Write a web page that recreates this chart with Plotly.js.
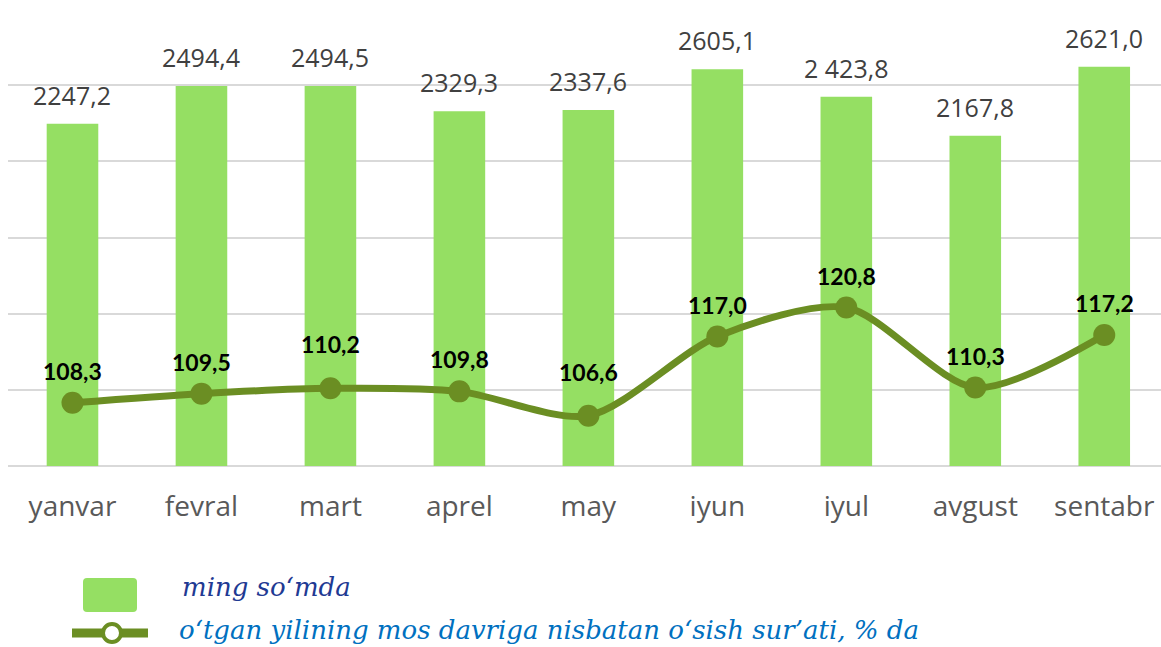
<!DOCTYPE html>
<html>
<head>
<meta charset="utf-8">
<script src="https://cdn.plot.ly/plotly-3.0.1.min.js"></script>
<style>html,body{margin:0;padding:0;background:#fff;}#chart{width:1161px;height:647px;}</style>
</head>
<body>
<div id="chart"></div>
<script>
var months = ["yanvar","fevral","mart","aprel","may","iyun","iyul","avgust","sentabr"];
var amounts = [2247.2, 2494.4, 2494.5, 2329.3, 2337.6, 2605.1, 2423.8, 2167.8, 2621.0];
var amountLabels = ["2247,2","2494,4","2494,5","2329,3","2337,6","2605,1","2 423,8","2167,8","2621,0"];
var growth = [108.3, 109.5, 110.2, 109.8, 106.6, 117.0, 120.8, 110.3, 117.2];
var growthLabels = ["108,3","109,5","110,2","109,8","106,6","117,0","120,8","110,3","117,2"];
var legendNames = ["ming so\u2018mda", "o\u2018tgan yilining mos davriga nisbatan o\u2018sish sur\u2019ati, % da"];

// extra label lift (px) for line labels, as placed in the original
var growthLabelLift = [0, 0, 12, 0, 12, 0, 0, 0, 0];

var barColor = "#95DF63";
var lineColor = "#6B8E23";

var bars = {
  type: "bar", x: months, y: amounts, name: legendNames[0],
  marker: {color: barColor}, width: 0.4, hoverinfo: "skip", showlegend: false
};
var line = {
  type: "scatter", mode: "lines+markers", x: months, y: growth, yaxis: "y2",
  name: legendNames[1], line: {color: lineColor, width: 7, shape: "spline", smoothing: 0.8},
  marker: {color: lineColor, size: 22}, hoverinfo: "skip", showlegend: false
};

var annotations = [];
months.forEach(function(m, i) {
  annotations.push({x: m, y: amounts[i], xref: "x", yref: "y", text: amountLabels[i],
    showarrow: false, yanchor: "bottom", yshift: 10,
    font: {family: "Open Sans", size: 25, color: "#404040"}});
  annotations.push({x: m, y: growth[i], xref: "x", yref: "y2", text: "<b>" + growthLabels[i] + "</b>",
    showarrow: false, yanchor: "bottom", yshift: 16 + growthLabelLift[i],
    font: {family: "Lato", size: 23, color: "#000000"}});
});
annotations.push({x: 180, y: 587, xref: "paper", yref: "paper", text: "<i>" + legendNames[0] + "</i>",
  showarrow: false, xanchor: "left", yanchor: "middle",
  font: {family: "DejaVu Serif", size: 26, color: "#1F3A93"}});
annotations.push({x: 177, y: 630, xref: "paper", yref: "paper", text: "<i>" + legendNames[1] + "</i>",
  showarrow: false, xanchor: "left", yanchor: "middle",
  font: {family: "DejaVu Serif", size: 26, color: "#0070C0"}});

var layout = {
  width: 1161, height: 647,
  margin: {l: 8, r: 0, t: 9, b: 181, pad: 0},
  paper_bgcolor: "#ffffff", plot_bgcolor: "#ffffff",
  showlegend: false,
  xaxis: {range: [-0.5, 8.44], showgrid: false, zeroline: false, showline: false,
    ticks: "outside", ticklen: 15, tickcolor: "rgba(0,0,0,0)",
    tickfont: {family: "Open Sans", size: 28, color: "#595959"}, automargin: false},
  yaxis: {range: [0, 3000], dtick: 500, showgrid: true, gridcolor: "#D9D9D9", gridwidth: 2,
    zeroline: true, zerolinecolor: "#D9D9D9", zerolinewidth: 2, showticklabels: false, fixedrange: true},
  yaxis2: {range: [100, 160], overlaying: "y", side: "right", showgrid: false, zeroline: false,
    showticklabels: false},
  annotations: annotations,
  shapes: []
};

Plotly.newPlot("chart", [bars, line], layout, {staticPlot: true}).then(function(gd) {
  var fl = gd._fullLayout;
  var W = fl.width, H = fl.height, m = fl.margin;
  var pw = W - m.l - m.r, ph = H - m.t - m.b;
  function px(x){return (x - m.l) / pw;}
  function py(y){return (H - m.b - y) / ph;}
  var anns = gd.layout.annotations.slice();
  var n = anns.length;
  anns[n-2].x = px(anns[n-2].x); anns[n-2].y = py(anns[n-2].y);
  anns[n-1].x = px(anns[n-1].x); anns[n-1].y = py(anns[n-1].y);
  var r = 4;
  var x0 = 83, x1 = 137, y0 = 578, y1 = 612;
  var path = "M" + px(x0 + r) + "," + py(y0) +
    " L" + px(x1 - r) + "," + py(y0) + " Q" + px(x1) + "," + py(y0) + " " + px(x1) + "," + py(y0 + r) +
    " L" + px(x1) + "," + py(y1 - r) + " Q" + px(x1) + "," + py(y1) + " " + px(x1 - r) + "," + py(y1) +
    " L" + px(x0 + r) + "," + py(y1) + " Q" + px(x0) + "," + py(y1) + " " + px(x0) + "," + py(y1 - r) +
    " L" + px(x0) + "," + py(y0 + r) + " Q" + px(x0) + "," + py(y0) + " " + px(x0 + r) + "," + py(y0) + " Z";
  var shapes = [
    {type: "path", xref: "paper", yref: "paper", path: path, fillcolor: barColor, line: {width: 0}},
    {type: "line", xref: "paper", yref: "paper", x0: px(72), x1: px(148), y0: py(633), y1: py(633),
     line: {color: lineColor, width: 9}},
    {type: "circle", xref: "paper", yref: "paper", x0: px(103), x1: px(121), y0: py(642), y1: py(624),
     fillcolor: "#ffffff", line: {color: lineColor, width: 4}}
  ];
  Plotly.relayout(gd, {annotations: anns, shapes: shapes});
});
</script>
</body>
</html>
